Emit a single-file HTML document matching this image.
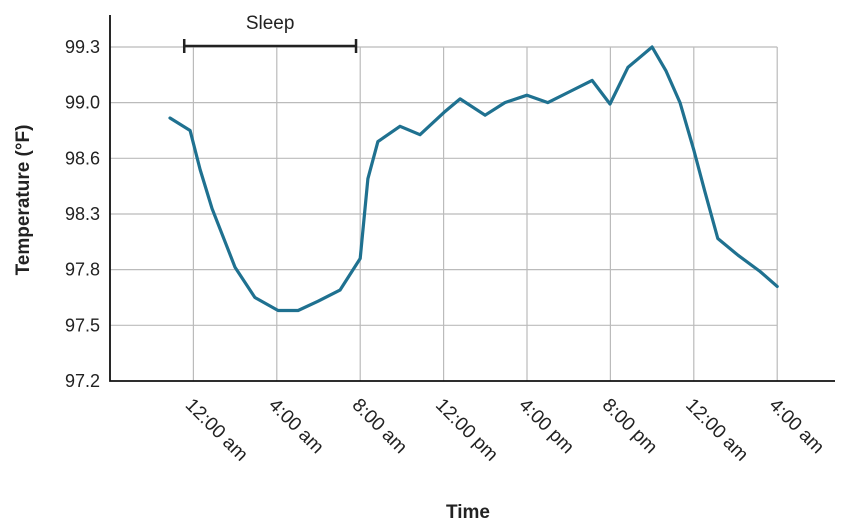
<!DOCTYPE html>
<html><head><meta charset="utf-8"><style>
body{margin:0;background:#fff;}
svg text{font-family:"Liberation Sans",Arial,sans-serif;fill:#222;}
</style></head><body>
<svg id="chart" width="850" height="521" viewBox="0 0 850 521"></svg>
<script>
const yTickLabels=[97.2,97.5,97.8,98.3,98.6,99.0,99.3];
const xTickLabels=["12:00 am","4:00 am","8:00 am","12:00 pm","4:00 pm","8:00 pm","12:00 am","4:00 am"];
const xTickHours=[4,8,12,16,20,24,28,32];
const hours=[2.88,3.84,4.32,4.89,6.0,6.95,8.06,9.02,9.98,11.03,12.0,12.37,12.85,13.91,14.87,16.02,16.79,17.99,18.94,20.0,21.0,22.06,23.12,23.98,24.84,26.0,26.67,27.34,28.0,28.53,29.15,30.12,31.18,32.0];
const temps=[98.89,98.80,98.54,98.33,97.82,97.65,97.58,97.58,97.63,97.69,97.90,98.49,98.72,98.83,98.77,98.93,99.02,98.91,99.00,99.04,99.00,99.06,99.12,98.99,99.19,99.30,99.17,99.00,98.66,98.42,98.08,97.93,97.79,97.71];
const sleepStart=3.56, sleepEnd=11.8;

const NS="http://www.w3.org/2000/svg";
const svg=document.getElementById('chart');
const X0=110,PX=20.85,Y0=381,STEP=55.67;
function xs(h){return X0+h*PX;}
function ys(t){
  for(let i=0;i<yTickLabels.length-1;i++){
    const a=yTickLabels[i],b=yTickLabels[i+1];
    if(t<=b||i===yTickLabels.length-2){return Y0-(i+(t-a)/(b-a))*STEP;}
  }
}
function el(tag,attrs,txt){const e=document.createElementNS(NS,tag);for(const k in attrs)e.setAttribute(k,attrs[k]);if(txt!==undefined)e.textContent=txt;svg.appendChild(e);return e;}
const right=xs(32);
yTickLabels.forEach((v,i)=>{
  const y=Y0-i*STEP;
  if(i>0){const g=el('line',{x1:X0,x2:right,y1:y,y2:y,stroke:'#bbb','stroke-width':1.2});
  
  }
  const t=el('text',{x:100,y:y+6,'text-anchor':'end','font-size':18},v.toFixed(1));
  
  
});
xTickHours.forEach((h,i)=>{
  const x=xs(h);
  const g=el('line',{x1:x,x2:x,y1:Y0-6*STEP,y2:Y0,stroke:'#bbb','stroke-width':1.2});
  
  
  const t=el('text',{x:x-9,y:406,'font-size':19,transform:`rotate(45 ${x-9} 406)`},xTickLabels[i]);
  
  
});
const ax=el('path',{d:`M${X0} 15 V${Y0} H835`,stroke:'#111','stroke-width':1.8,fill:'none'});


const sy=ys(99.3)-1;
const sb=el('path',{d:`M${xs(sleepStart)} ${sy} H${xs(sleepEnd)} M${xs(sleepStart)} ${sy-7} V${sy+7} M${xs(sleepEnd)} ${sy-7} V${sy+7}`,stroke:'#222','stroke-width':2.5,fill:'none'});


const sl=el('text',{x:(xs(sleepStart)+xs(sleepEnd))/2,y:29,'text-anchor':'middle','font-size':19},'Sleep');


const pts=hours.map((h,i)=>xs(h).toFixed(1)+','+ys(temps[i]).toFixed(1)).join(' ');
const ln=el('polyline',{points:pts,fill:'none',stroke:'#1f7190','stroke-width':3.2,'stroke-linejoin':'round','stroke-linecap':'round'});


const yt=el('text',{x:0,y:0,'text-anchor':'middle','font-size':19,'font-weight':'bold',transform:'translate(29 200) rotate(-90)'},'Temperature (°F)');


const xt=el('text',{x:468,y:518,'text-anchor':'middle','font-size':19,'font-weight':'bold'},'Time');


</script>
</body></html>
